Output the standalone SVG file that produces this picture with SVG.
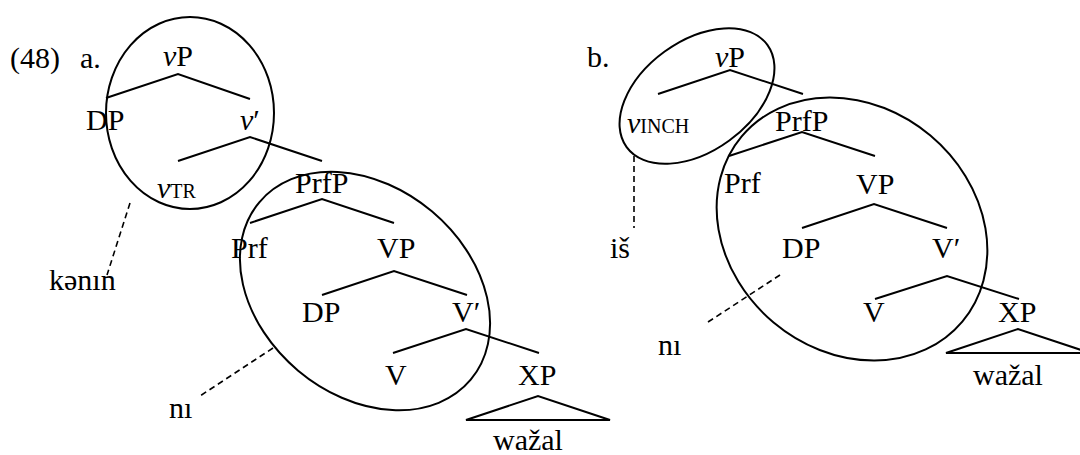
<svg xmlns="http://www.w3.org/2000/svg" width="1080" height="455" viewBox="0 0 1080 455">
<style>
text{font-family:'Liberation Serif','Times New Roman','DejaVu Serif',serif;font-size:30px;fill:#000}
.i{font-style:italic}
.sub{font-size:20px}
.ln{fill:none;stroke:#000;stroke-width:2}
.dash{fill:none;stroke:#000;stroke-width:1.6;stroke-dasharray:6 4}
.ell{fill:none;stroke:#000;stroke-width:2}
</style>
<rect width="1080" height="455" fill="#fff"/>
<g font-family="'Liberation Serif', 'DejaVu Serif', serif">
<g id="labels">
<text x="10" y="68">(48)</text>
<text x="80" y="68">a.</text>
<text x="587" y="67">b.</text>
</g>
<g id="tree-a">
<g id="a-vP"><text x="163" y="66"><tspan class="i">v</tspan>P</text></g>
<g id="a-DP1"><text x="86" y="130">DP</text></g>
<g id="a-vbar"><text x="240" y="130"><tspan class="i">v</tspan>′</text></g>
<g id="a-vTR"><text x="157" y="198"><tspan class="i">v</tspan><tspan class="sub">TR</tspan></text></g>
<g id="a-PrfP"><text x="295" y="193">PrfP</text></g>
<g id="a-Prf"><text x="231" y="258">Prf</text></g>
<g id="a-VP"><text x="377" y="258">VP</text></g>
<g id="a-DP2"><text x="302" y="322">DP</text></g>
<g id="a-Vbar"><text x="452" y="322">V′</text></g>
<g id="a-V"><text x="385" y="385">V</text></g>
<g id="a-XP"><text x="518" y="385">XP</text></g>
<g id="a-wazal"><text x="493" y="450">wažal</text></g>
<g id="a-kenin"><text x="49" y="290">kənın</text></g>
<g id="a-ni"><text x="169" y="418">nı</text></g>
</g>
<g id="tree-b">
<g id="b-vP"><text x="715" y="67"><tspan class="i">v</tspan>P</text></g>
<g id="b-vINCH"><text x="627" y="133"><tspan class="i">v</tspan><tspan class="sub">INCH</tspan></text></g>
<g id="b-PrfP"><text x="775" y="131">PrfP</text></g>
<g id="b-Prf"><text x="724" y="193">Prf</text></g>
<g id="b-VP"><text x="856" y="194">VP</text></g>
<g id="b-DP"><text x="782" y="258">DP</text></g>
<g id="b-Vbar"><text x="932" y="258">V′</text></g>
<g id="b-V"><text x="863" y="322">V</text></g>
<g id="b-XP"><text x="998" y="322">XP</text></g>
<g id="b-wazal"><text x="973" y="385">wažal</text></g>
<g id="b-is"><text x="610" y="258">iš</text></g>
<g id="b-ni"><text x="658" y="355">nı</text></g>
</g>
</g>
<g id="circles">
<ellipse class="ell" cx="190" cy="113" rx="84" ry="96"/>
<ellipse class="ell" cx="0" cy="0" rx="138" ry="104" transform="translate(365 291) rotate(40)"/>
<ellipse class="ell" cx="0" cy="0" rx="87" ry="55" transform="translate(697 96) rotate(-36)"/>
<ellipse class="ell" cx="0" cy="0" rx="144" ry="122" transform="translate(852 229) rotate(40)"/>
</g>
<g id="connectors">
<polyline class="ln" points="106,98 178,74 250,99"/>
<polyline class="ln" points="178,161 250,137 322,161"/>
<polyline class="ln" points="250,223 322,199 394,223"/>
<polyline class="ln" points="322,295 394,271 467,295"/>
<polyline class="ln" points="393,353 466,329 539,353"/>
<polygon class="ln" points="466,420 538,396 610,420"/>
<line class="dash" x1="130" y1="203" x2="107" y2="275"/>
<line class="dash" x1="273" y1="348" x2="200" y2="396"/>
<polyline class="ln" points="658,94 730,70 803,94"/>
<polyline class="ln" points="729,156 802,132 875,156"/>
<polyline class="ln" points="802,228 874,204 947,228"/>
<polyline class="ln" points="875,299 947,276 1019,299"/>
<polygon class="ln" points="946,353 1018,329 1090,353"/>
<line class="dash" x1="634" y1="156" x2="634" y2="228"/>
<line class="dash" x1="780" y1="275" x2="705" y2="324"/>
</g>
</svg>
